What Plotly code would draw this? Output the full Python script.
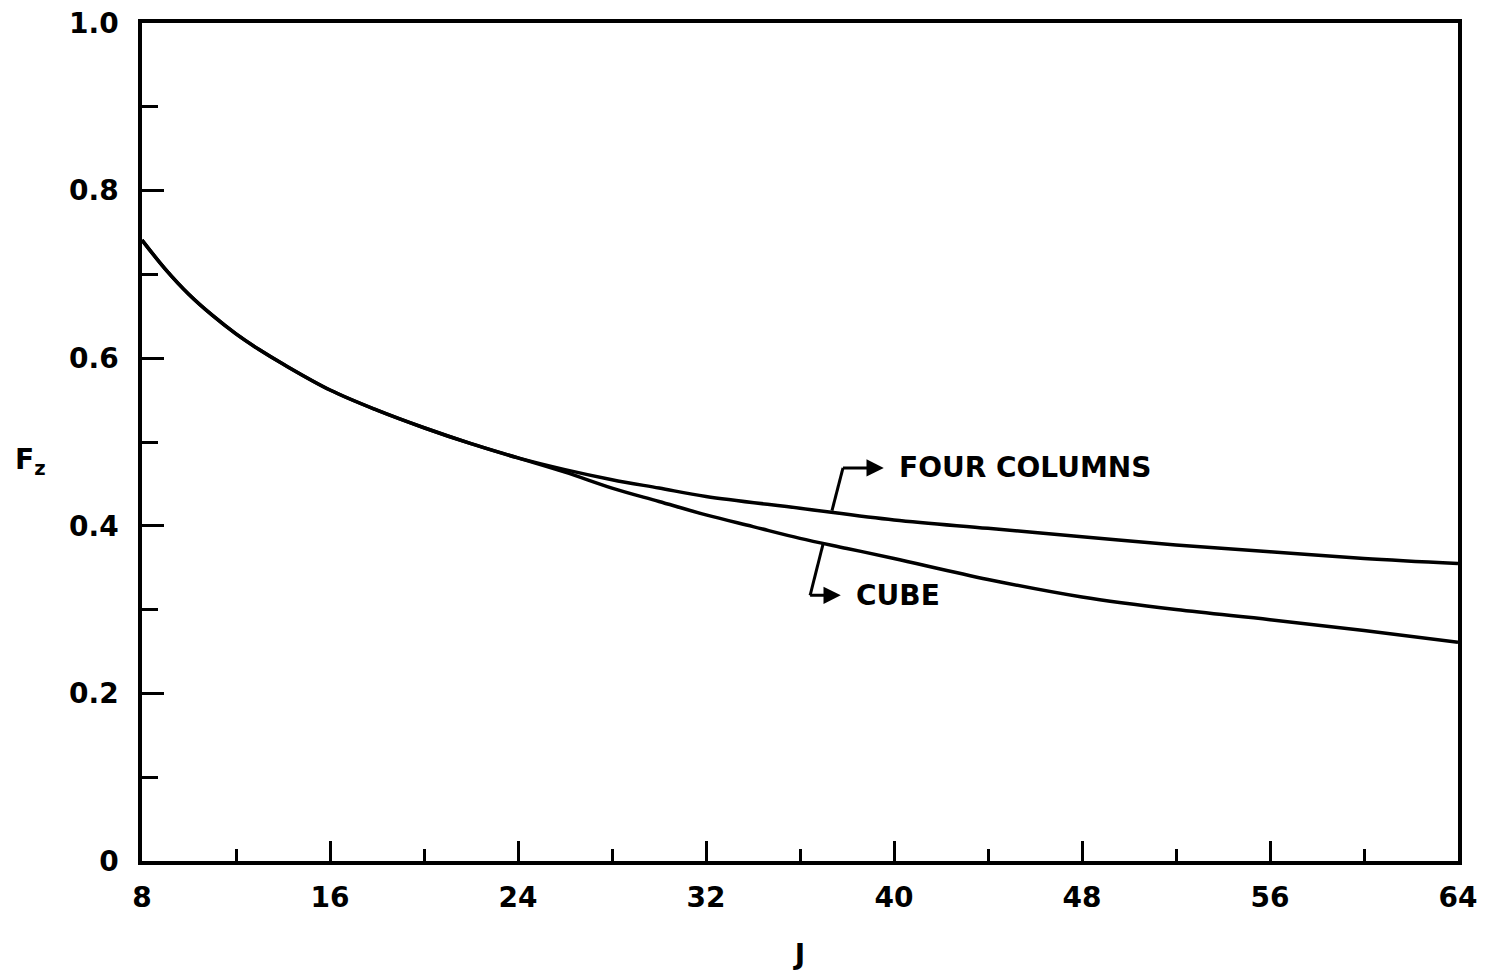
import plotly.graph_objects as go

# ---- data ----
J_four = [8, 9, 10, 11, 12, 13, 14, 16, 18, 20, 22, 24, 26, 28, 30, 32, 36, 40, 44, 48, 52, 56, 60, 64]
F_four = [0.741, 0.706, 0.676, 0.651, 0.629, 0.610, 0.593, 0.562, 0.538, 0.517, 0.498, 0.481,
          0.467, 0.455, 0.445, 0.435, 0.421, 0.407, 0.397, 0.387, 0.377, 0.369, 0.361, 0.355]

J_cube = [8, 9, 10, 11, 12, 13, 14, 16, 18, 20, 22, 24, 26, 28, 30, 32, 34, 36, 38, 40, 44, 48, 52, 56, 60, 64]
F_cube = [0.741, 0.706, 0.676, 0.651, 0.629, 0.610, 0.593, 0.562, 0.538, 0.517, 0.498, 0.481,
          0.464, 0.445, 0.429, 0.413, 0.399, 0.385, 0.373, 0.361, 0.336, 0.315, 0.300, 0.288, 0.275, 0.261]

x_ticks = [8, 16, 24, 32, 40, 48, 56, 64]
y_ticks = [0, 0.2, 0.4, 0.6, 0.8, 1.0]
y_tick_labels = ["0", "0.2", "0.4", "0.6", "0.8", "1.0"]

labels = ["FOUR COLUMNS", "CUBE"]
# leader: point on curve, bend, label start
leader_start = [(37.36, 0.418), (36.98, 0.378)]
leader_bend = [(37.83, 0.469), (36.43, 0.317)]
label_pos = [(40.16, 0.469), (38.33, 0.317)]

FONT = "DejaVu Sans"
BLACK = "#000000"
FS = 28

fig = go.Figure()
fig.add_trace(go.Scatter(x=J_four, y=F_four, mode="lines",
                         line=dict(color=BLACK, width=3.5, shape="spline", smoothing=1.0),
                         showlegend=False, name=labels[0]))
fig.add_trace(go.Scatter(x=J_cube, y=F_cube, mode="lines",
                         line=dict(color=BLACK, width=3.5, shape="spline", smoothing=1.0),
                         showlegend=False, name=labels[1]))

shapes = []
annotations = []
for lab, s, b, p in zip(labels, leader_start, leader_bend, label_pos):
    shapes.append(dict(type="line", xref="x", yref="y", x0=s[0], y0=s[1], x1=b[0], y1=b[1],
                       line=dict(color=BLACK, width=3)))
    annotations.append(dict(x=b[0], y=b[1], ax=p[0], ay=p[1], xref="x", yref="y", axref="x", ayref="y",
                            text=lab, showarrow=True, arrowside="start", arrowhead=2,
                            arrowsize=1.2, startarrowsize=1.15, startarrowhead=2,
                            arrowwidth=3, arrowcolor=BLACK, standoff=0, startstandoff=14,
                            xanchor="left", yanchor="middle", borderpad=0,
                            font=dict(family=FONT, size=FS, color=BLACK, weight="bold")))

annotations.append(dict(x=-0.098, y=0.477, xref="paper", yref="paper", text="F<sub>z</sub>",
                        showarrow=False, xanchor="left", yanchor="middle",
                        font=dict(family=FONT, size=FS, color=BLACK, weight="bold")))

fig.update_layout(
    width=1485, height=963,
    margin=dict(l=134, r=35, t=15, b=110),
    paper_bgcolor="white", plot_bgcolor="white",
    font=dict(family=FONT, size=FS, color=BLACK, weight="bold"),
    annotations=annotations,
    shapes=shapes,
    xaxis=dict(
        range=[8, 64], tickmode="array", tickvals=x_ticks, ticktext=[str(v) for v in x_ticks],
        ticks="inside", ticklen=20, tickwidth=3, tickcolor=BLACK,
        minor=dict(dtick=4, tick0=8, ticks="inside", ticklen=12, tickwidth=3, tickcolor=BLACK, showgrid=False),
        showline=True, linewidth=3.5, linecolor=BLACK, mirror=True,
        showgrid=False, zeroline=False, ticklabelstandoff=9, automargin=False,
        ticklabeloverflow="allow",
        title=dict(text="J", standoff=32, font=dict(family=FONT, size=FS, color=BLACK, weight="bold")),
    ),
    yaxis=dict(
        range=[0, 1.0], tickmode="array", tickvals=y_ticks, ticktext=y_tick_labels,
        ticks="inside", ticklen=22, tickwidth=3, tickcolor=BLACK,
        minor=dict(dtick=0.1, tick0=0, ticks="inside", ticklen=16, tickwidth=3, tickcolor=BLACK, showgrid=False),
        showline=True, linewidth=3.5, linecolor=BLACK, mirror=True,
        showgrid=False, zeroline=False, ticklabelstandoff=14, automargin=False,
        ticklabeloverflow="allow",
    ),
)

fig.write_html("out.html")
